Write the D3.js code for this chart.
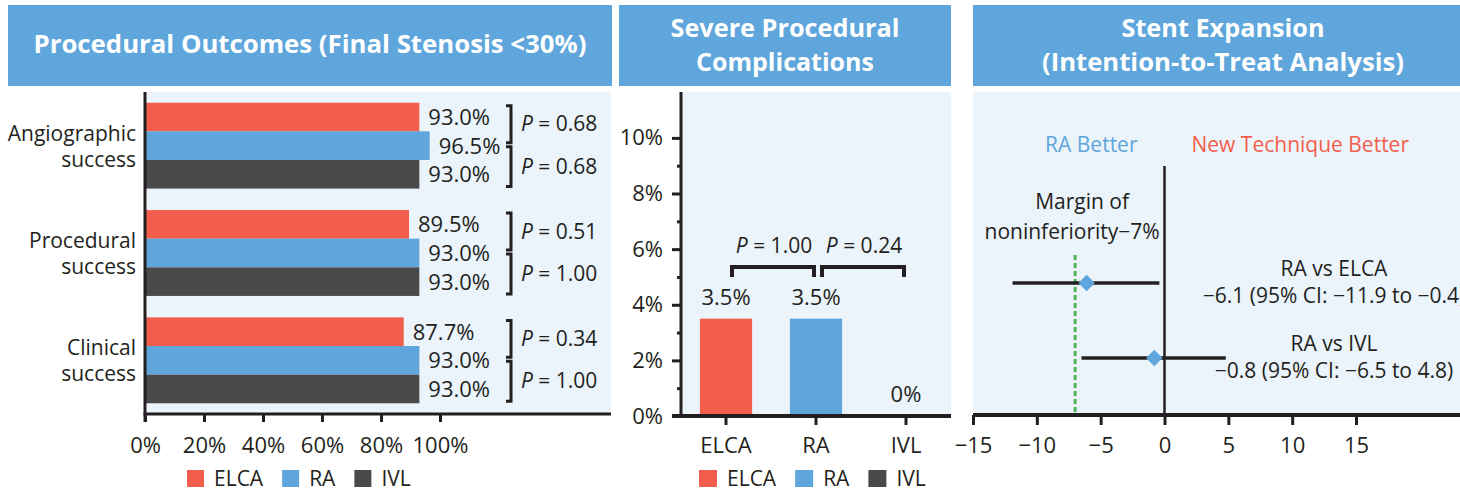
<!DOCTYPE html>
<html>
<head>
<meta charset="utf-8">
<script src="https://cdn.jsdelivr.net/npm/d3@7"></script>
<style>
  html, body { margin: 0; padding: 0; background: #fff; }
  svg { display: block; font-family: "Open Sans", "Noto Sans", sans-serif; }
</style>
</head>
<body>
<svg id="chart" width="1460" height="491"></svg>
<script>
// ---- data ----
const outcomeCategories = ["Angiographic success", "Procedural success", "Clinical success"];
const outcomeLabelLines = [["Angiographic", "success"], ["Procedural", "success"], ["Clinical", "success"]];
const devices = ["ELCA", "RA", "IVL"];
const elcaOutcome = [93.0, 89.5, 87.7];
const raOutcome = [96.5, 93.0, 93.0];
const ivlOutcome = [93.0, 93.0, 93.0];
const pElcaVsRa = ["0.68", "0.51", "0.34"];
const pRaVsIvl = ["0.68", "1.00", "1.00"];
const outcomeTicks = [0, 20, 40, 60, 80, 100];

const complicationRates = [3.5, 3.5, 0];
const complicationPairs = [["ELCA", "RA"], ["RA", "IVL"]];
const complicationP = ["1.00", "0.24"];
const complicationBracketLevel = 5.36;
const complicationTicks = [0, 2, 4, 6, 8, 10];
const complicationMinorTicks = [1, 3, 5, 7, 9];

const comparisons = ["RA vs ELCA", "RA vs IVL"];
const diffEstimate = [-6.1, -0.8];
const diffLow = [-11.9, -6.5];
const diffHigh = [-0.4, 4.8];
const noninferiorityMargin = -7;
const diffTicks = [-15, -10, -5, 0, 5, 10, 15];

// ---- styling ----
const C = {
  ELCA: "#F25E4B", RA: "#5EA6DB", IVL: "#4A4A4C",
  header: "#5EA6DB", panel: "#EBF3FB", ink: "#231F20", green: "#4DB356"
};
const colorOf = d => C[d];
const svg = d3.select("#chart");

const pct1 = v => v === 0 ? "0%" : d3.format(".1f")(v) + "%";

function header(x0, x1, lines) {
  svg.append("rect").attr("x", x0).attr("y", 5).attr("width", x1 - x0).attr("height", 81).attr("fill", C.header);
  lines.forEach(l => {
    svg.append("text")
      .attr("x", (x0 + x1) / 2).attr("y", l.y)
      .attr("text-anchor", "middle")
      .attr("fill", "#fff").attr("font-weight", 700).attr("font-size", 25)
      .attr("textLength", l.w).attr("lengthAdjust", "spacingAndGlyphs")
      .text(l.t);
  });
}

function pLabel(g, x, y, p, anchor) {
  const t = g.append("text").attr("x", x).attr("y", y)
    .attr("text-anchor", anchor || "start")
    .attr("font-size", 21).attr("fill", C.ink);
  t.append("tspan").attr("font-style", "italic").text("P");
  t.append("tspan").text(" = " + p);
  return t;
}

function legend(x0, y0, size) {
  const g = svg.append("g");
  let x = x0;
  devices.forEach(d => {
    g.append("rect").attr("x", x).attr("y", y0).attr("width", size).attr("height", 17).attr("fill", colorOf(d));
    const t = g.append("text").attr("x", x + size + 10).attr("y", y0 + 16)
      .attr("font-size", 21).attr("fill", C.ink).text(d);
    x += size + 10 + t.node().getComputedTextLength() + 19;
  });
}

function styleAxis(g) {
  g.select(".domain").remove();
  g.selectAll(".tick line").attr("stroke", C.ink).attr("stroke-width", 3);
  g.selectAll(".tick text").attr("fill", C.ink).attr("font-size", 22).attr("font-family", "Open Sans");
}

// =========== Panel 1: procedural outcomes ===========
header(8, 612, [{ t: "Procedural Outcomes (Final Stenosis <30%)", y: 53, w: 553 }]);
const p1 = { left: 145, right: 611, top: 92, bottom: 414 };
svg.append("rect").attr("x", p1.left + 2).attr("y", p1.top)
  .attr("width", p1.right - p1.left - 2).attr("height", p1.bottom - p1.top).attr("fill", C.panel);

const xOut = d3.scaleLinear().domain([0, 100]).range([p1.left, 440]);
const yOut = d3.scaleBand().domain(outcomeCategories).range([p1.top, p1.bottom]).paddingInner(0.2).paddingOuter(0.1);
const yDev = d3.scaleBand().domain(devices).range([0, yOut.bandwidth()]);

const outcomeRows = outcomeCategories.map((c, i) => ({
  cat: c, lines: outcomeLabelLines[i],
  values: [
    { dev: "ELCA", v: elcaOutcome[i] },
    { dev: "RA", v: raOutcome[i] },
    { dev: "IVL", v: ivlOutcome[i] }
  ],
  p1: pElcaVsRa[i], p2: pRaVsIvl[i]
}));

const grp = svg.append("g").selectAll("g").data(outcomeRows).join("g")
  .attr("transform", d => `translate(0,${yOut(d.cat)})`);

grp.selectAll("rect").data(d => d.values).join("rect")
  .attr("x", xOut(0)).attr("y", d => yDev(d.dev))
  .attr("width", d => xOut(d.v) - xOut(0)).attr("height", yDev.bandwidth())
  .attr("fill", d => colorOf(d.dev));

grp.selectAll("text.val").data(d => d.values).join("text").attr("class", "val")
  .attr("x", d => xOut(d.v) + 9).attr("y", d => yDev(d.dev) + yDev.bandwidth() / 2 + 8)
  .attr("font-size", 22).attr("fill", C.ink).text(d => pct1(d.v));

// category labels
grp.each(function (d) {
  const g = d3.select(this);
  const mid = yOut.bandwidth() / 2;
  d.lines.forEach((l, k) => {
    g.append("text").attr("x", 136).attr("y", mid - 5 + k * 26)
      .attr("text-anchor", "end").attr("font-size", 21).attr("fill", C.ink).text(l);
  });
  // significance brackets
  const bx = 511;
  const bw = yOut.bandwidth();
  const spans = [[3, bw / 2 - 3, d.p1], [bw / 2 + 1, bw - 2, d.p2]];
  spans.forEach(([a, b, p]) => {
    g.append("path").attr("d", `M${bx - 5},${a}H${bx}V${b}H${bx - 5}`)
      .attr("fill", "none").attr("stroke", C.ink).attr("stroke-width", 3);
    pLabel(g, bx + 10, (a + b) / 2 + 7, p);
  });
});

// axes
svg.append("line").attr("x1", p1.left).attr("x2", p1.left).attr("y1", p1.top).attr("y2", p1.bottom + 8)
  .attr("stroke", C.ink).attr("stroke-width", 3);
svg.append("line").attr("x1", p1.left - 1.5).attr("x2", p1.right).attr("y1", p1.bottom).attr("y2", p1.bottom)
  .attr("stroke", C.ink).attr("stroke-width", 3);
svg.append("g").attr("transform", `translate(0,${p1.bottom})`)
  .call(d3.axisBottom(xOut).tickValues(outcomeTicks).tickSize(8).tickPadding(15).tickFormat(d => d + "%"))
  .call(styleAxis);
legend(187, 470, 17);

// =========== Panel 2: severe complications ===========
header(619, 951, [{ t: "Severe Procedural", y: 37, w: 229 }, { t: "Complications", y: 71, w: 178 }]);
const p2 = { left: 681, right: 951, top: 92, bottom: 416 };
svg.append("rect").attr("x", p2.left).attr("y", p2.top)
  .attr("width", p2.right - p2.left).attr("height", p2.bottom - p2.top).attr("fill", C.panel);

const xComp = d3.scaleBand().domain(devices).range([p2.left, p2.right]).paddingInner(0.42).paddingOuter(0.21);
const yComp = d3.scaleLinear().domain([0, 11.65]).range([p2.bottom, p2.top]);

const compRows = devices.map((d, i) => ({ dev: d, v: complicationRates[i] }));
svg.append("g").selectAll("rect").data(compRows).join("rect")
  .attr("x", d => xComp(d.dev)).attr("width", xComp.bandwidth())
  .attr("y", d => yComp(d.v)).attr("height", d => yComp(0) - yComp(d.v))
  .attr("fill", d => colorOf(d.dev));
svg.append("g").selectAll("text").data(compRows).join("text")
  .attr("x", d => xComp(d.dev) + xComp.bandwidth() / 2)
  .attr("y", d => d.v > 0 ? yComp(d.v) - 14 : yComp(0) - 14)
  .attr("text-anchor", "middle").attr("font-size", 22).attr("fill", C.ink)
  .text(d => pct1(d.v));

// brackets between devices
const cx = d => xComp(d) + xComp.bandwidth() / 2;
complicationPairs.forEach((pair, i) => {
  const xa = cx(pair[0]) + 6, xb = cx(pair[1]) - 2;
  const yb = yComp(complicationBracketLevel);
  svg.append("path").attr("d", `M${xa},${yb + 10}V${yb}H${xb}V${yb + 10}`)
    .attr("fill", "none").attr("stroke", C.ink).attr("stroke-width", 4);
  pLabel(svg, (xa + xb) / 2 + 1, yb - 14, complicationP[i], "middle");
});

svg.append("g").attr("transform", `translate(${p2.left},0)`)
  .call(d3.axisLeft(yComp).tickValues(complicationTicks).tickSize(9).tickPadding(9).tickFormat(d => d + "%"))
  .call(styleAxis);
svg.append("g").attr("transform", `translate(${p2.left},0)`)
  .call(d3.axisLeft(yComp).tickValues(complicationMinorTicks).tickSize(4).tickFormat(""))
  .call(styleAxis);
svg.append("g").attr("transform", `translate(0,${p2.bottom})`)
  .call(d3.axisBottom(xComp).tickSize(9).tickPadding(12))
  .call(styleAxis);
svg.append("line").attr("x1", p2.left).attr("x2", p2.left).attr("y1", p2.top).attr("y2", p2.bottom)
  .attr("stroke", C.ink).attr("stroke-width", 3);
svg.append("line").attr("x1", p2.left - 9).attr("x2", p2.right).attr("y1", p2.bottom).attr("y2", p2.bottom)
  .attr("stroke", C.ink).attr("stroke-width", 4);
legend(699, 470, 18);

// =========== Panel 3: stent expansion forest plot ===========
header(973, 1473, [{ t: "Stent Expansion", y: 37, w: 203 }, { t: "(Intention-to-Treat Analysis)", y: 71, w: 362 }]);
const p3 = { left: 973, right: 1460, top: 92, bottom: 415 };
svg.append("rect").attr("x", p3.left).attr("y", p3.top)
  .attr("width", p3.right - p3.left).attr("height", p3.bottom - p3.top).attr("fill", C.panel);

const xDiff = d3.scaleLinear().domain([-15, 15]).range([973, 1356]);
const yRow = d3.scalePoint().domain(comparisons).range([283, 358]);

// noninferiority margin
svg.append("line").attr("x1", xDiff(noninferiorityMargin)).attr("x2", xDiff(noninferiorityMargin))
  .attr("y1", 255).attr("y2", p3.bottom)
  .attr("stroke", C.green).attr("stroke-width", 3).attr("stroke-dasharray", "5,3");
// line of no difference
svg.append("line").attr("x1", xDiff(0)).attr("x2", xDiff(0)).attr("y1", 166).attr("y2", p3.bottom)
  .attr("stroke", C.ink).attr("stroke-width", 2.5);

svg.append("text").attr("x", xDiff(0) - 27).attr("y", 152).attr("text-anchor", "end")
  .attr("font-size", 21).attr("fill", C.RA).text("RA Better");
svg.append("text").attr("x", xDiff(0) + 27).attr("y", 152).attr("text-anchor", "start")
  .attr("font-size", 21).attr("fill", C.ELCA).text("New Technique Better");

svg.append("text").attr("x", xDiff(noninferiorityMargin) + 7).attr("y", 209).attr("text-anchor", "middle")
  .attr("font-size", 21).attr("fill", C.ink).text("Margin of");
svg.append("text").attr("x", xDiff(noninferiorityMargin) - 3).attr("y", 239).attr("text-anchor", "middle")
  .attr("font-size", 21).attr("fill", C.ink).text("noninferiority\u2212" + Math.abs(noninferiorityMargin) + "%");

const forestRows = comparisons.map((c, i) => ({ c, est: diffEstimate[i], lo: diffLow[i], hi: diffHigh[i] }));
const fmt = v => (v < 0 ? "\u2212" : "") + d3.format(".1f")(Math.abs(v));
svg.append("g").selectAll("line").data(forestRows).join("line")
  .attr("x1", d => xDiff(d.lo)).attr("x2", d => xDiff(d.hi))
  .attr("y1", d => yRow(d.c)).attr("y2", d => yRow(d.c))
  .attr("stroke", C.ink).attr("stroke-width", 3.5);
svg.append("g").selectAll("path").data(forestRows).join("path")
  .attr("d", d3.symbol(d3.symbolSquare, 135))
  .attr("transform", d => `translate(${xDiff(d.est)},${yRow(d.c)}) rotate(45)`)
  .attr("fill", C.RA);
const lab = svg.append("g").selectAll("g").data(forestRows).join("g")
  .attr("transform", d => `translate(1334,${yRow(d.c)})`);
lab.append("text").attr("y", -7).attr("text-anchor", "middle").attr("font-size", 21).attr("fill", C.ink)
  .text(d => d.c);
lab.append("text").attr("y", 20).attr("text-anchor", "middle").attr("font-size", 21).attr("fill", C.ink)
  .text(d => `${fmt(d.est)} (95% CI: ${fmt(d.lo)} to ${fmt(d.hi)})`);

svg.append("g").attr("transform", `translate(0,${p3.bottom})`)
  .call(d3.axisBottom(xDiff).tickValues(diffTicks).tickSize(10).tickPadding(12))
  .call(styleAxis);
svg.append("line").attr("x1", p3.left).attr("x2", p3.right).attr("y1", p3.bottom).attr("y2", p3.bottom)
  .attr("stroke", C.ink).attr("stroke-width", 4);
</script>
</body>
</html>
